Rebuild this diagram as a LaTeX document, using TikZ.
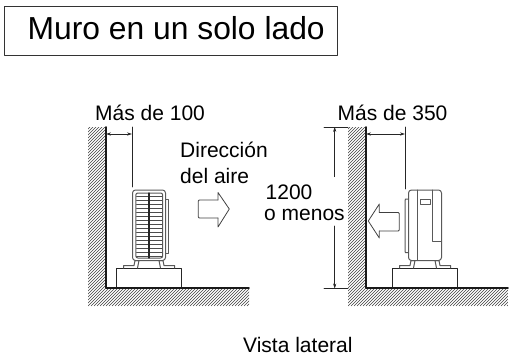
\documentclass[tikz,border=0pt]{standalone}
\usepackage{fontspec}
\setmainfont{Liberation Sans}
\usetikzlibrary{arrows.meta}

\begin{document}
\begin{tikzpicture}[x=1pt, y=-1pt, % one unit is one pixel of the sheet, y runs downwards
                    line join=round, line cap=round,
                    every node/.style = {inner sep=0pt, anchor=base west, font=\fontsize{21}{25}\selectfont},
                    hatch/.style = {line width=.6pt, black!75},
                    wall/.style = {line width=1.9pt, black!90},
                    thin line/.style = {line width=.6pt, black!85},
                    dim/.style = {thin line, {Stealth[length=5pt,width=3.2pt]}-{Stealth[length=5pt,width=3.2pt]}},
                    unit/.style = {line width=1pt, black!65},
                    air/.style = {line width=.8pt, black!75, rounded corners=1pt}
                   ]
  \useasboundingbox (0,0) rectangle (509,361);

  % title
  \draw[line width=.8pt, black!80] (4,6) rectangle (337.5,55);
  \node (title) [font=\fontsize{31.8}{36}\selectfont] at (27.5,40) {Muro en un solo lado};

  % hatching of both walls and floors
  \begin{scope}
    \clip (88,127) rectangle (106,306) (88,288) rectangle (249,306);
    \foreach \i in {-92,-89,...,249}
      \draw[hatch] (\i,306) -- ++(180,-180);
  \end{scope}
  \begin{scope}
    \clip (348,127) rectangle (366,306) (348,288) rectangle (508,306);
    \foreach \i in {168,171,...,508}
      \draw[hatch] (\i,306) -- ++(180,-180);
  \end{scope}
  \draw[wall] (106,127) -- (106,288) -- (249,288);
  \draw[wall] (366,127) -- (366,288) -- (508,288);

  % base, feet and body, same for both units
  \foreach \dx in {0,276} {
    \begin{scope}[xshift=\dx pt]
      \draw[thin line, line width=.8pt] (116.7,287) -- (116.7,268.3) -- (181.5,268.3) -- (181.5,287);
      \draw[unit] (123.5,268) -- (123.5,265.5) -- (134,265.5) -- (135,260.5) -- (139,260.5) -- (137.5,268);
      \draw[unit] (174.5,268) -- (174.5,265.5) -- (164,265.5) -- (163,260.5) -- (159,260.5) -- (160.5,268);
      \draw[unit, rounded corners=3pt] (132.5,190) rectangle (165.5,260.5);
    \end{scope}
  }

  % left unit, seen from the front
  \draw[unit] (165.5,199) -- (168.5,199) -- (168.5,253) -- (165.5,253);
  \draw[unit, rounded corners=2pt] (135.8,193) rectangle (162.7,258);
  \foreach \y in {196,200,...,256}
    \draw[line width=.9pt, black!70] (136.5,\y) -- (162,\y);
  \draw[line width=1.1pt, black!85] (149,193) -- (149,258);

  % right unit, seen from the side
  \draw[unit] (408.5,199) -- (405.5,199) -- (405,201) -- (405,251) -- (405.5,252.7) -- (408.5,252.7);
  \draw[unit] (417.7,190) -- (417.7,260.5);
  \draw[unit] (432,190) -- (432,241.7) -- (441.5,241.7);
  \draw[unit] (420,199) rectangle (430,204.3);

  % air arrows
  \draw[air] (218,200) -- (198.3,200) -- (198.3,218) -- (218,218);
  \draw[air, rounded corners=0pt] (218,200) -- (218,192.5) -- (229.3,209) -- (218,227) -- (218,218);
  \draw[air] (379.3,212.5) -- (399.3,212.5) -- (399.3,231) -- (379.3,231);
  \draw[air, rounded corners=0pt] (379.3,212.5) -- (379.3,204) -- (368.3,221) -- (379.3,238) -- (379.3,231);

  % dimensions
  \coordinate (wallA) at (106,134);
  \coordinate (unitA) at (132,134);
  \coordinate (wallB) at (366,134);
  \coordinate (unitB) at (405,134);
  \coordinate (topC) at (334.7,127);
  \coordinate (botC) at (334.7,288.5);
  \draw[thin line] (132,127) -- (132,187);
  \draw[thin line] (405,127) -- (405,189);
  \draw[thin line] (324,127) -- (348,127);
  \draw[thin line] (324,288.5) -- (348,288.5);
  \draw[dim] (wallA) -- (unitA);
  \draw[dim] (wallB) -- (unitB);
  \draw[dim, {Stealth[length=5pt,width=3.2pt]}-] (topC) -- (334.7,176.7);
  \draw[dim, -{Stealth[length=5pt,width=3.2pt]}] (334.7,226) -- (botC);

  % labels
  \node (masA) at (95,120.5) {Más de 100};
  \node (masB) at (337.5,120.5) {Más de 350};
  \node (dir) at (180,157) {Dirección};
  \node (aire) at (180,183) {del aire};
  \node (mil) at (265.5,199) {1200};
  \node (menos) at (264,220.5) {o menos};
  \node (vista) at (243,352) {Vista lateral};
\end{tikzpicture}
\end{document}
